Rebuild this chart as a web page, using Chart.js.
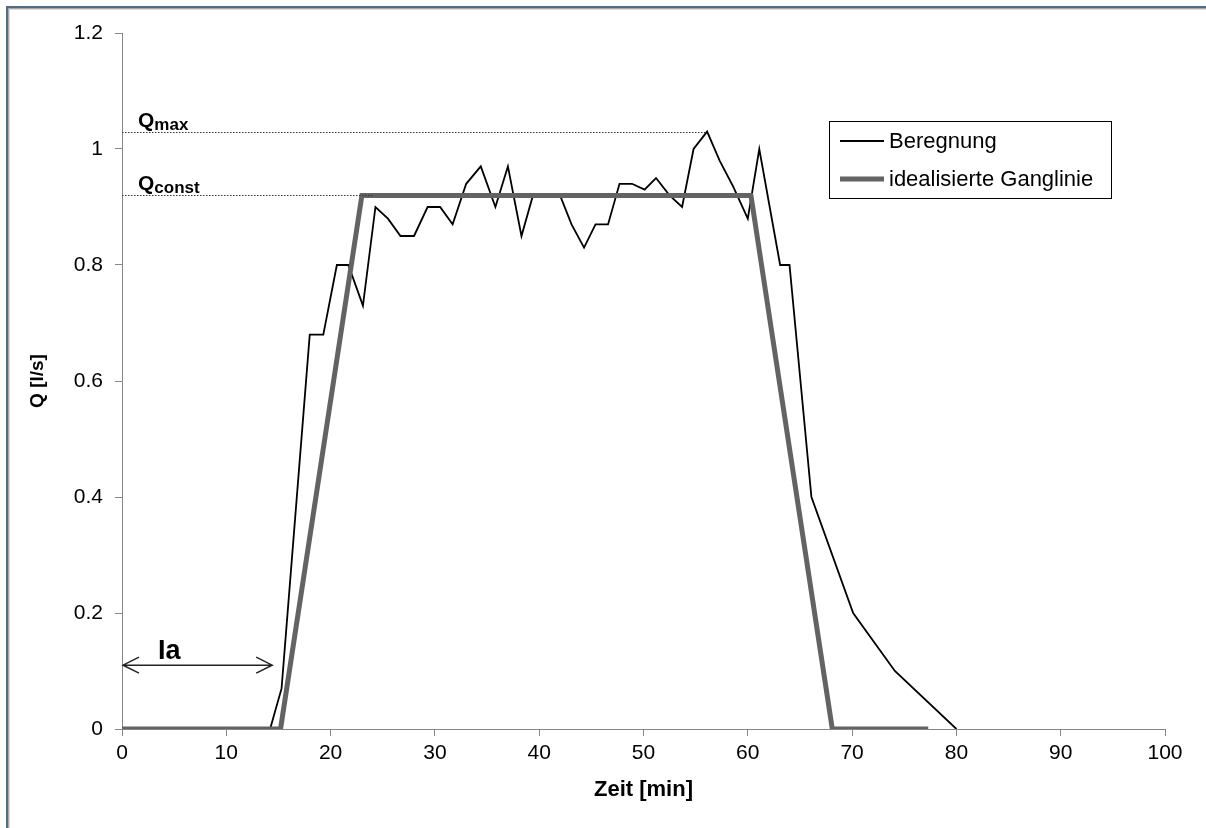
<!DOCTYPE html>
<html>
<head>
<meta charset="utf-8">
<title>Beregnung</title>
<script src="https://cdn.jsdelivr.net/npm/chart.js@4/dist/chart.umd.min.js"></script>
<style>
    html, body { margin: 0; padding: 0; background: #fff; }
    #chartQ { display: block; }
</style>
</head>
<body>
<canvas id="chartQ" width="1206" height="828"></canvas>
<script>
// gemessene Ganglinie (Beregnung)
const beregnungZeit = [0, 14.2, 15.3, 18.0, 19.3, 20.6, 21.7, 23.1, 24.3, 25.5, 26.7, 28.0, 29.3, 30.5, 31.7, 33.0, 34.4, 35.8, 37.0, 38.3, 39.4, 40.7, 42.0, 43.1, 44.3, 45.4, 46.6, 47.7, 48.9, 50.1, 51.2, 52.5, 53.7, 54.8, 56.1, 57.3, 58.6, 60.0, 61.1, 63.1, 64.0, 66.1, 70.1, 74.1, 80.0];
const beregnungQ = [0, 0, 0.07, 0.68, 0.68, 0.80, 0.80, 0.73, 0.90, 0.88, 0.85, 0.85, 0.90, 0.90, 0.87, 0.94, 0.97, 0.90, 0.97, 0.85, 0.92, 0.92, 0.92, 0.87, 0.83, 0.87, 0.87, 0.94, 0.94, 0.93, 0.95, 0.92, 0.90, 1.00, 1.03, 0.98, 0.935, 0.88, 1.00, 0.80, 0.80, 0.40, 0.20, 0.10, 0];

// idealisierte Ganglinie
const idealZeit = [0, 15.2, 23.0, 60.3, 68.1, 77.3];
const idealQ = [0, 0, 0.92, 0.92, 0, 0];

// Achsen
const xTicks = [0, 10, 20, 30, 40, 50, 60, 70, 80, 90, 100];
const yTicks = [0, 0.2, 0.4, 0.6, 0.8, 1, 1.2];

// Markierungen
const qMax = 1.03;
const qMaxZeit = 56.1;
const qConst = 0.92;
const qConstZeit = 24.1;
const iaZeit = 14.4;
const iaPfeilQ = 0.11;

const toPoints = (xs, ys) => xs.map((x, i) => ({ x: x, y: ys[i] }));

const FONT = "'Liberation Sans', Arial, sans-serif";

// Rahmen, Hilfslinien, Beschriftungen und Legende
const extrasPlugin = {
    id: "extras",
    beforeDraw(chart) {
        const ctx = chart.ctx;
        ctx.save();
        ctx.fillStyle = "#ffffff";
        ctx.fillRect(0, 0, chart.width, chart.height);
        // Rahmen oben/links
        ctx.fillStyle = "#4d6e88";
        ctx.fillRect(6, 6, chart.width - 6, 2);
        ctx.fillRect(6, 6, 2, chart.height - 6);
        ctx.fillStyle = "#a8a8a8";
        ctx.fillRect(8, 8, chart.width - 8, 1);
        ctx.fillRect(8, 8, 1, chart.height - 8);
        ctx.fillStyle = "#dcdcdc";
        ctx.fillRect(9, 9, chart.width - 9, 1);
        ctx.fillRect(9, 9, 1, chart.height - 9);
        ctx.restore();
    },
    afterDatasetsDraw(chart) {
        const ctx = chart.ctx;
        const xs = chart.scales.x;
        const ys = chart.scales.y;
        const x0 = xs.getPixelForValue(0);
        ctx.save();

        // gepunktete Linien Qmax / Qconst
        ctx.strokeStyle = "#333";
        ctx.lineWidth = 1;
        ctx.setLineDash([1.5, 1.5]);
        [[qMax, qMaxZeit], [qConst, qConstZeit]].forEach(([q, t]) => {
            const y = Math.round(ys.getPixelForValue(q)) + 0.5;
            ctx.beginPath();
            ctx.moveTo(x0, y);
            ctx.lineTo(xs.getPixelForValue(t), y);
            ctx.stroke();
        });
        ctx.setLineDash([]);

        // Q mit Index
        ctx.fillStyle = "#000";
        ctx.textBaseline = "alphabetic";
        ctx.textAlign = "left";
        const drawQ = (sub, q) => {
            const yBase = ys.getPixelForValue(q) - 5;
            ctx.font = "bold 21px " + FONT;
            ctx.fillText("Q", 138, yBase);
            const w = ctx.measureText("Q").width;
            ctx.font = "bold 17px " + FONT;
            ctx.fillText(sub, 138 + w, yBase + 3);
        };
        drawQ("max", qMax);
        drawQ("const", qConst);

        // Anfangsverlust Ia
        const ay = ys.getPixelForValue(iaPfeilQ);
        const ax1 = xs.getPixelForValue(iaZeit);
        ctx.strokeStyle = "#222";
        ctx.lineWidth = 1.5;
        ctx.beginPath();
        ctx.moveTo(x0 + 1, ay);
        ctx.lineTo(ax1, ay);
        ctx.moveTo(x0 + 17, ay - 8);
        ctx.lineTo(x0 + 1, ay);
        ctx.lineTo(x0 + 17, ay + 8);
        ctx.moveTo(ax1 - 16, ay - 8);
        ctx.lineTo(ax1, ay);
        ctx.lineTo(ax1 - 16, ay + 8);
        ctx.stroke();
        ctx.font = "bold 27px " + FONT;
        ctx.fillText("Ia", 158, ay - 6);

        // Legende mit Rahmen
        const lx = 829.5, ly = 121.5, lw = 282, lh = 77;
        ctx.strokeStyle = "#000";
        ctx.lineWidth = 1;
        ctx.strokeRect(lx, ly, lw, lh);
        ctx.font = "22px " + FONT;
        ctx.textBaseline = "middle";
        chart.data.datasets.forEach((ds, i) => {
            const y = i === 0 ? 141 : 179;
            ctx.strokeStyle = ds.borderColor;
            ctx.lineWidth = ds.borderWidth;
            ctx.beginPath();
            ctx.moveTo(840, y);
            ctx.lineTo(884, y);
            ctx.stroke();
            ctx.fillStyle = "#000";
            ctx.fillText(ds.label, 889, y + 1);
        });
        ctx.restore();
    }
};

const chartQ = new Chart(document.getElementById("chartQ"), {
    type: "line",
    data: {
        datasets: [
            {
                label: "Beregnung",
                data: toPoints(beregnungZeit, beregnungQ),
                borderColor: "#000000",
                borderWidth: 1.8,
                pointRadius: 0,
                tension: 0,
                order: 1
            },
            {
                label: "idealisierte Ganglinie",
                data: toPoints(idealZeit, idealQ),
                borderColor: "#636363",
                borderWidth: 5,
                pointRadius: 0,
                tension: 0,
                borderJoinStyle: "miter",
                order: 0
            }
        ]
    },
    options: {
        responsive: false,
        animation: false,
        devicePixelRatio: 1,
        layout: { padding: { left: 22, top: 33, right: 41, bottom: 24 } },
        plugins: {
            legend: { display: false },
            tooltip: { enabled: false }
        },
        scales: {
            x: {
                type: "linear",
                min: 0,
                max: 100,
                afterBuildTicks: (scale) => { scale.ticks = xTicks.map(v => ({ value: v })); },
                afterFit: (scale) => { scale.height = 75; },
                grid: { drawOnChartArea: false, drawTicks: true, tickLength: 7, color: "#868686" },
                border: { color: "#868686", width: 1 },
                ticks: { color: "#000", font: { family: FONT, size: 21 }, padding: 5, maxRotation: 0 },
                title: { display: true, text: "Zeit [min]", color: "#000", font: { family: FONT, size: 22, weight: "bold" }, padding: { top: 4, bottom: 1 } }
            },
            y: {
                min: 0,
                max: 1.2,
                afterBuildTicks: (scale) => { scale.ticks = yTicks.map(v => ({ value: v })); },
                afterFit: (scale) => { scale.width = 100; },
                grid: { drawOnChartArea: false, drawTicks: true, tickLength: 7, color: "#868686" },
                border: { color: "#868686", width: 1 },
                ticks: {
                    color: "#000",
                    font: { family: FONT, size: 21 },
                    padding: 12,
                    callback: (v) => String(Number(v.toFixed(1)))
                },
                title: { display: true, text: "Q [l/s]", color: "#000", font: { family: FONT, size: 19, weight: "bold" }, padding: { top: 4, bottom: 4 } }
            }
        }
    },
    plugins: [extrasPlugin]
});
</script>
</body>
</html>
